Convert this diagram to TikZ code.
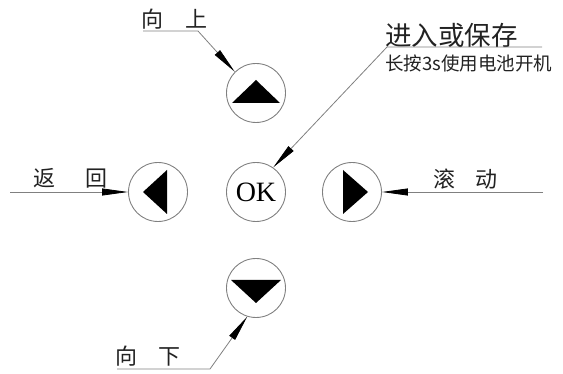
\documentclass[tikz,border=0pt]{standalone}
\usepackage{fontspec}
\newfontfamily\cjk{Noto Sans CJK SC}
\newfontfamily\okfont{Liberation Serif}
\usetikzlibrary{arrows.meta}
\definecolor{ln}{HTML}{808080}
\definecolor{tx}{HTML}{222222}
\begin{document}
\begin{tikzpicture}[x=1pt,y=-1pt,
  btn/.style={circle,draw=ln,line width=0.9pt,minimum size=59pt,inner sep=0pt},
  lbl/.style={inner sep=0pt,anchor=west,text=tx,font=\cjk\fontsize{22}{22}\selectfont},
  lead/.style={draw=ln,line width=0.8pt,-{Triangle[length=26pt,width=7pt,black]}},
  tri/.style={fill=black}]
\useasboundingbox (0,0) rectangle (563,374);
% buttons
\node[btn] (upc) at (256,93) {};
\node[btn] (leftc) at (158,192) {};
\node[btn] (okc) at (256,192) {\okfont\fontsize{28}{28}\selectfont OK};
\node[btn] (rightc) at (352,192) {};
\node[btn] (downc) at (256,288) {};
% triangles
\fill[tri] (232,103) -- (280,103) -- (256,80) -- cycle;
\fill[tri] (143,192) -- (167,170) -- (167,214) -- cycle;
\fill[tri] (368,192) -- (343,170) -- (343,214) -- cycle;
\fill[tri] (231,280) -- (281,280) -- (256,303) -- cycle;
% labels
\node[lbl] (tup) at (141,19) {向\hspace{22pt}上};
\node[lbl,font=\cjk\fontsize{26.5}{26.5}\selectfont] (tok) at (385,35) {进入或保存};
\node[lbl,font=\cjk\fontsize{18.5}{18.5}\selectfont] (tok2) at (385,63) {长按3s使用电池开机};
\node[lbl] (tleft) at (33,178.5) {返\hspace{30pt}回};
\node[lbl] (tright) at (433,179) {滚\hspace{20pt}动};
\node[lbl] (tdown) at (115,356.5) {向\hspace{21pt}下};
% leader coordinates
\coordinate (u1) at (143,31);
\coordinate (u2) at (198,31);
\coordinate (o1) at (542,47);
\coordinate (o2) at (387,47);
\coordinate (l1) at (10,192);
\coordinate (r1) at (543,192);
\coordinate (d1) at (117,369);
\coordinate (d2) at (210,369);
% leaders
\draw[lead] (u1) -- (u2) -- (upc.135);
\draw[lead] (o1) -- (o2) -- (okc.55);
\draw[lead] (l1) -- (leftc);
\draw[lead] (r1) -- (rightc);
\draw[lead] (d1) -- (d2) -- (downc.253);
\end{tikzpicture}
\end{document}
